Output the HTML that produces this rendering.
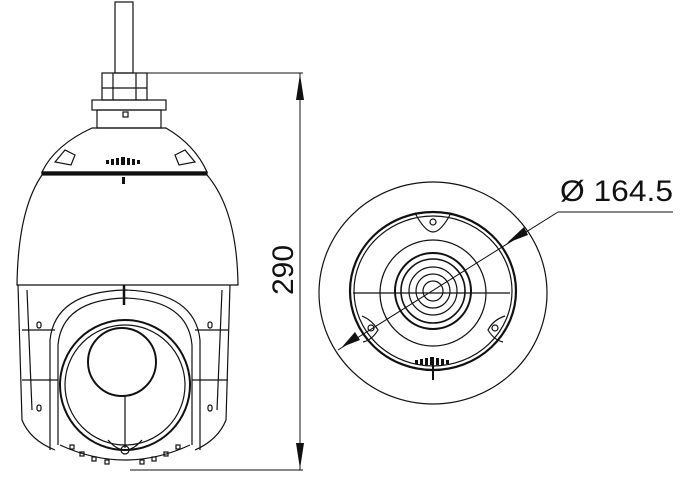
<!DOCTYPE html>
<html><head><style>
html,body{margin:0;padding:0;background:#fff;}
svg{display:block;}
text{font-family:"Liberation Sans",sans-serif;fill:#111;}
</style></head><body>
<svg width="687" height="483" viewBox="0 0 687 483" xmlns="http://www.w3.org/2000/svg">
<g fill="none" stroke="#111" stroke-width="1.2">
<rect x="115" y="2" width="18" height="71"/>
<rect x="102" y="73" width="45" height="27"/>
<line x1="113" y1="73" x2="113" y2="100"/><line x1="136" y1="73" x2="136" y2="100"/>
<line x1="102" y1="88" x2="147" y2="88"/>
<rect x="92" y="100" width="74" height="10"/>
<rect x="97" y="110" width="64" height="18"/>
<rect x="123" y="112" width="5" height="5"/>
<path d="M92 128 L166 128 Q195 145 207 172 L42 172 Q55 145 92 128 Z"/>
<rect x="42" y="172" width="165" height="3" fill="#111"/>
<path d="M55 162 l10 -12 l10 5 l-4 10 z"/>
<path d="M195 162 l-10 -12 l-10 5 l4 10 z"/>
<g fill="#111" stroke="none">
<rect x="106" y="160" width="3" height="4"/><rect x="111" y="159" width="3" height="6"/><rect x="116" y="158" width="3" height="7"/><rect x="121" y="157" width="4" height="8"/><rect x="127" y="158" width="3" height="7"/><rect x="132" y="159" width="3" height="6"/><rect x="137" y="160" width="3" height="4"/>
<rect x="122" y="177" width="3" height="7"/>
</g>
<path d="M42 175 Q18 210 17 285 L238 285 Q237 210 207 175"/>
<path d="M18 285 L22 420 Q30 440 55 450 M230 285 L226 420 Q218 440 195 450"/>
<path d="M27 290 L32 410 M222 290 L217 410"/>
<line x1="22" y1="330" x2="55" y2="330"/><line x1="195" y1="330" x2="228" y2="330"/>
<line x1="22" y1="380" x2="58" y2="380"/><line x1="192" y1="380" x2="228" y2="380"/>
<path d="M50 450 L50 340 Q55 292 125 290 Q195 292 200 340 L200 450"/>
<path d="M58 445 L58 345 Q62 300 125 298 Q188 300 192 345 L192 445"/>
<line x1="124" y1="285" x2="124" y2="305" stroke-width="2.5"/>
<circle cx="125" cy="385" r="65" stroke-width="2"/>
<circle cx="125" cy="385" r="60"/>
<circle cx="122" cy="362" r="34" stroke-width="2"/>
<line x1="125" y1="396" x2="125" y2="448"/>
<path d="M60 445 Q125 475 190 445"/>
<path d="M108 440 Q125 460 142 440"/>
<circle cx="125" cy="450" r="4"/>
<g>
<rect x="70" y="445" width="4" height="4"/><rect x="80" y="452" width="4" height="4"/><rect x="92" y="457" width="4" height="4"/><rect x="105" y="460" width="4" height="4"/><rect x="140" y="460" width="4" height="4"/><rect x="152" y="457" width="4" height="4"/><rect x="164" y="452" width="4" height="4"/><rect x="176" y="445" width="4" height="4"/>
</g>
<rect x="37" y="322" width="4" height="6" rx="2"/><rect x="208" y="322" width="4" height="6" rx="2"/>
<rect x="37" y="405" width="4" height="6" rx="2"/><rect x="208" y="405" width="4" height="6" rx="2"/>
<line x1="140" y1="73" x2="303" y2="73" stroke-width="1"/>
<line x1="130" y1="470" x2="303" y2="470" stroke-width="1"/>
<line x1="300" y1="73" x2="300" y2="470" stroke-width="1"/>
</g>
<path d="M300 74 L296 100 L304 100 Z" fill="#111"/>
<path d="M300 469 L296 443 L304 443 Z" fill="#111"/>
<text x="0" y="0" font-size="30" text-anchor="middle" transform="translate(293,270) rotate(-90)">290</text>

<g fill="none" stroke="#111" stroke-width="1.2">
<ellipse cx="433" cy="293" rx="114" ry="111"/>
<ellipse cx="433" cy="291" rx="83" ry="79" stroke-width="2.2"/>
<ellipse cx="433" cy="291" rx="79" ry="75"/>
<circle cx="433" cy="293" r="53"/>
<circle cx="433" cy="291" r="38" stroke-width="2"/>
<circle cx="433" cy="291" r="32" stroke-width="1.6"/>
<circle cx="433" cy="291" r="24"/>
<circle cx="433" cy="291" r="17"/>
<circle cx="433" cy="291" r="10"/>
<line x1="353" y1="293" x2="510" y2="293"/>
<path d="M415 213 Q425 232 433 232 Q441 232 451 213"/>
<circle cx="433" cy="222" r="3"/>
<path d="M362 316 Q372 320 378 330 Q372 340 363 342"/>
<circle cx="371" cy="328" r="3"/>
<path d="M505 316 Q493 320 488 330 Q494 340 503 342"/>
<circle cx="495" cy="328" r="3"/>
<line x1="433" y1="365" x2="433" y2="380" stroke-width="2"/>
<line x1="338" y1="350" x2="558" y2="212" stroke-width="1"/>
<line x1="558" y1="212" x2="673" y2="212" stroke-width="1"/>
</g>
<g fill="#111">
<rect x="415" y="360" width="3" height="4"/><rect x="420" y="359" width="3" height="6"/><rect x="425" y="358" width="3" height="7"/><rect x="430" y="357" width="4" height="8"/><rect x="436" y="358" width="3" height="7"/><rect x="441" y="359" width="3" height="6"/><rect x="446" y="360" width="3" height="4"/>
<path d="M507 243 L524 227 L528 235 Z"/>
<path d="M342 347 L360 340 L355 332 Z"/>
</g>
<text x="560" y="201" font-size="30" textLength="113" lengthAdjust="spacingAndGlyphs">Ø 164.5</text>
</svg>
</body></html>
